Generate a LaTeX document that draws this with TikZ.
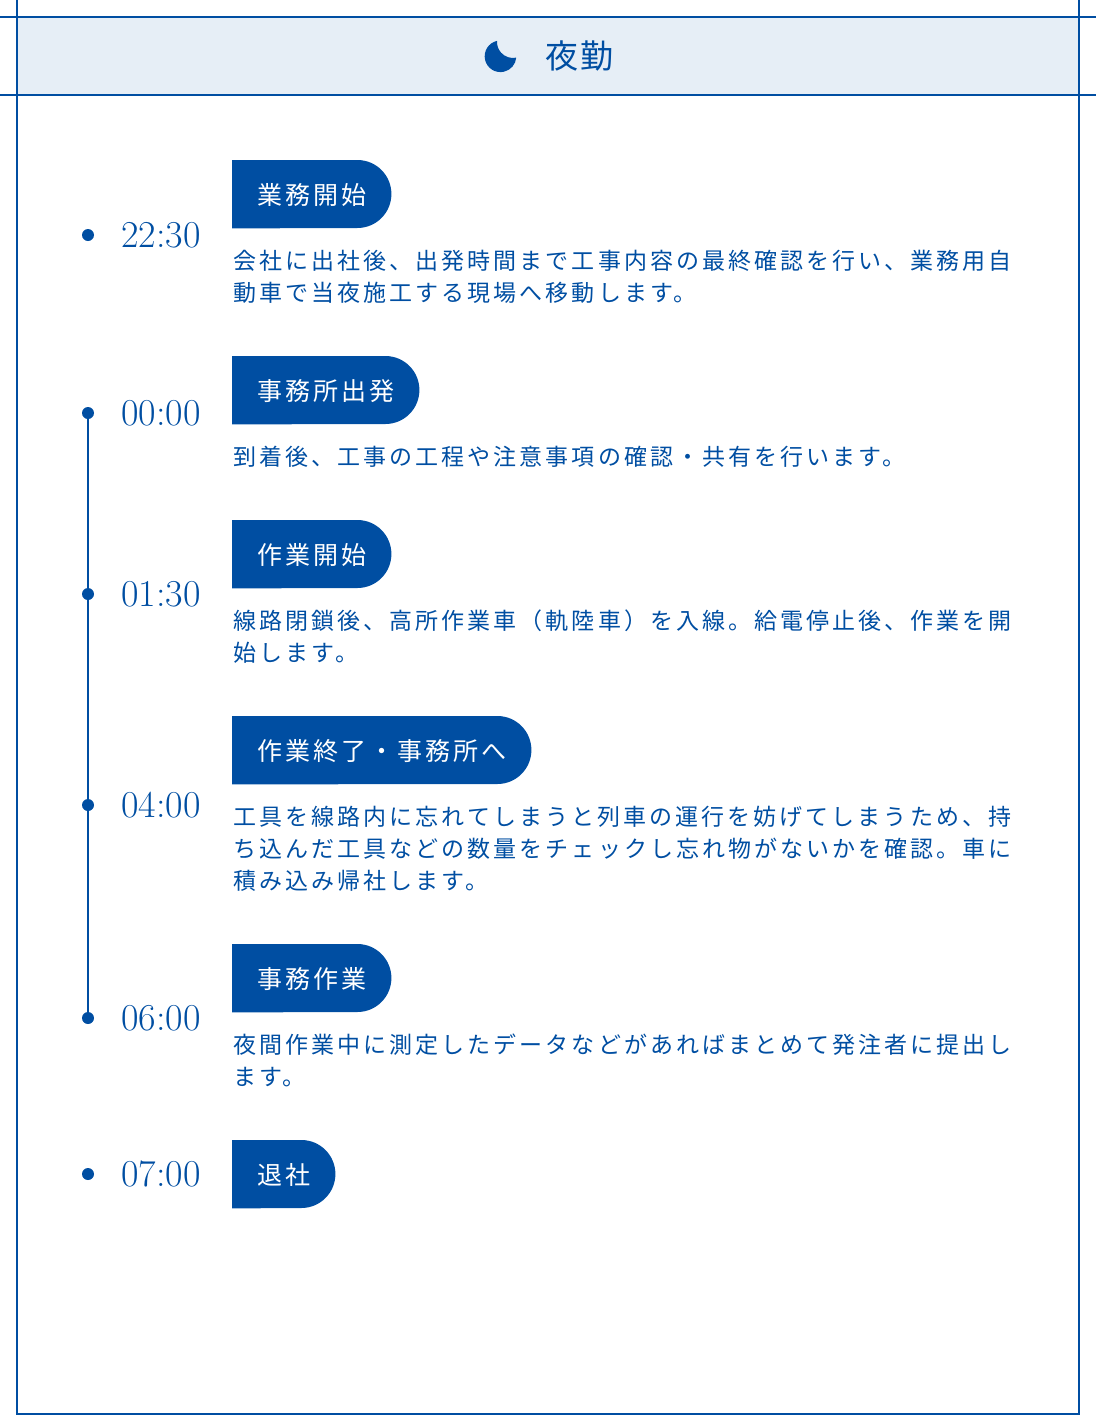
\documentclass[tikz,border=0pt]{standalone}
\usepackage{fontspec}
\usetikzlibrary{backgrounds}
\newfontfamily\descfont{Noto Sans CJK JP}[LetterSpace=13.3]
\newfontfamily\badgefont{Noto Sans CJK JP}[LetterSpace=12]
\newfontfamily\titlefont{Noto Sans CJK JP}[LetterSpace=8]
\definecolor{navy}{HTML}{004EA2}
\definecolor{band}{HTML}{E6EEF6}

\begin{document}
\begin{tikzpicture}[
        x=1pt,y=-1pt,
        frame/.style={draw=navy,line width=2pt},
        dot/.style={circle,fill=navy,minimum size=12pt,inner sep=0pt},
        clock/.style={anchor=base west,inner sep=0pt,text=navy,font=\fontsize{38}{42}\selectfont},
        badge/.style={anchor=north west,inner xsep=25pt,inner ysep=0pt,minimum height=68pt,
          text=white,font=\badgefont\fontsize{25}{30}\selectfont},
        desc/.style={anchor=north west,inner sep=0pt,text width=800pt,align=left,
          text=navy,font=\descfont\fontsize{23}{32}\selectfont},
        ]
        \useasboundingbox (0,0) rectangle (1096,1416);

        % header band and frame
        \fill[band] (17,17) rectangle (1079,95);
        \draw[frame] (17,0) -- (17,1414) -- (1079,1414) -- (1079,0);
        \draw[frame] (0,17) -- (1096,17);
        \draw[frame] (0,95) -- (1096,95);
        \fill[navy] (497.04,40.88) arc[start angle=102.6,end angle=355.1,radius=15.8pt]
          arc[start angle=281.7,end angle=176,radius=16pt] -- cycle;
        \node[anchor=west,inner sep=0pt,text=navy,font=\titlefont\fontsize{33}{36}\selectfont] (title) at (545,56) {夜勤};

        % timeline
        \node[dot] (d1) at (88,235) {};
        \node[dot] (d2) at (88,413) {};
        \node[dot] (d3) at (88,594) {};
        \node[dot] (d4) at (88,805) {};
        \node[dot] (d5) at (88,1018) {};
        \node[dot] (d6) at (88,1174) {};
        \draw[navy,line width=2pt] (d2) -- (d5);

        \node[clock] (t1) at (121,247.3) {22:30};
        \node[clock] (t2) at (121,425.3) {00:00};
        \node[clock] (t3) at (121,606.3) {01:30};
        \node[clock] (t4) at (121,817.3) {04:00};
        \node[clock] (t5) at (121,1030.3) {06:00};
        \node[clock] (t6) at (121,1186.3) {07:00};

        \node[badge] (b1) at (232,161) {業務開始};
        \node[badge] (b2) at (232,357) {事務所出発};
        \node[badge] (b3) at (232,521) {作業開始};
        \node[badge] (b4) at (232,717) {作業終了・事務所へ};
        \node[badge] (b5) at (232,945) {事務作業};
        \node[badge] (b6) at (232,1141) {退社};

        \node[desc] (x1) at (233,250) {会社に出社後、出発時間まで工事内容の最終確認を行い、業務用自\\動車で当夜施工する現場へ移動します。};
        \node[desc] (x2) at (233,446) {到着後、工事の工程や注意事項の確認・共有を行います。};
        \node[desc] (x3) at (233,610) {線路閉鎖後、高所作業車（軌陸車）を入線。給電停止後、作業を開\\始します。};
        \node[desc] (x4) at (233,806) {工具を線路内に忘れてしまうと列車の運行を妨げてしまうため、持\\ち込んだ工具などの数量をチェックし忘れ物がないかを確認。車に\\積み込み帰社します。};
        \node[desc] (x5) at (233,1034) {夜間作業中に測定したデータなどがあればまとめて発注者に提出し\\ます。};

        \begin{scope}[on background layer]
          \foreach \b in {b1,b2,b3,b4,b5,b6}
            \fill[navy] ([yshift=1pt]\b.north west) -- ([xshift=-34pt,yshift=1pt]\b.north east)
              arc[start angle=90,end angle=-90,radius=34pt] -- ([yshift=1pt]\b.south west) -- cycle;
        \end{scope}
      \end{tikzpicture}
\end{document}
